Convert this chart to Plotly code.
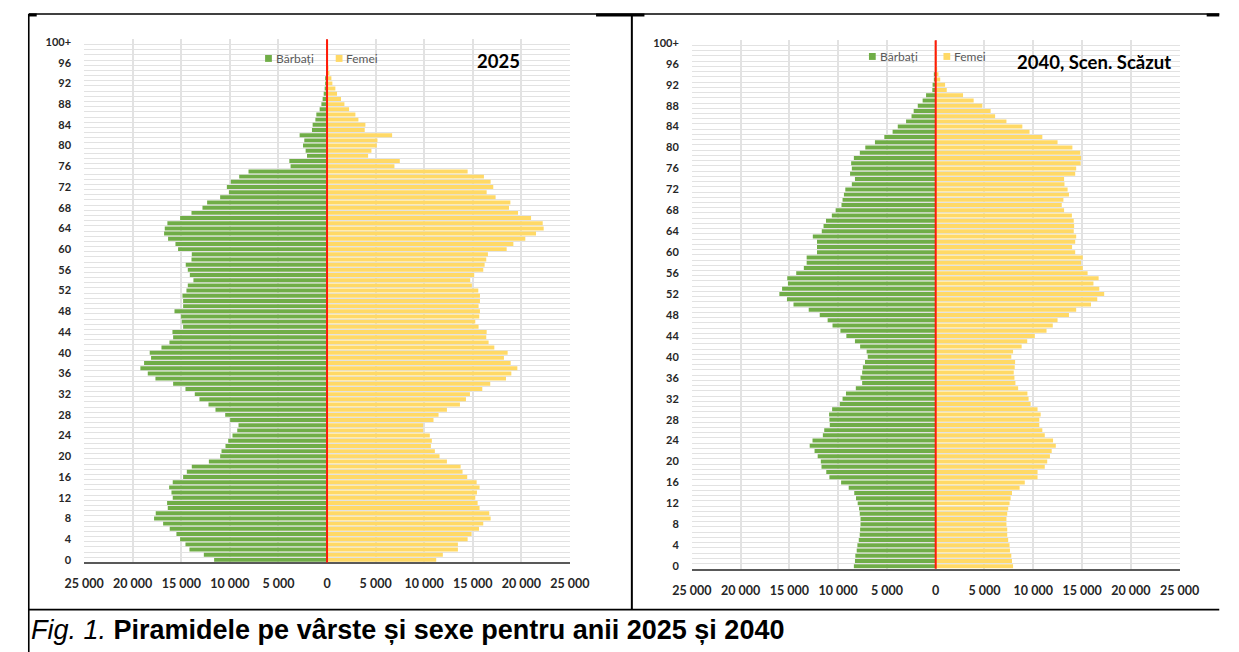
import plotly.graph_objects as go

# ---------------- data ----------------
ages = list(range(101))
age_tick_vals = list(range(0, 101, 4))
age_tick_text = [str(a) for a in range(0, 100, 4)] + ["100+"]

x_tick_vals = [-25000, -20000, -15000, -10000, -5000, 0, 5000, 10000, 15000, 20000, 25000]
x_tick_text = ["25 000", "20 000", "15 000", "10 000", "5 000", "0",
               "5 000", "10 000", "15 000", "20 000", "25 000"]

# 2025 - men (Bărbați), ages 0..100+
men_2025 = [11620, 12680, 14160, 14570, 15120, 15500, 16190, 16870, 17800, 17630,
            16390, 16460, 15880, 16010, 16250, 15880, 14810, 14430, 13920, 12160,
            11000, 10860, 10450, 10170, 9730, 9240, 9110, 9970, 10480, 11480,
            12200, 13130, 13610, 14570, 15840, 17660, 18450, 19210, 18830, 18110,
            18250, 17040, 16220, 15840, 15910, 14810, 14950, 15020, 15700, 14810,
            14810, 14880, 14470, 14330, 13750, 14120, 14330, 14540, 13950, 13920,
            15330, 15600, 16360, 16770, 16700, 16430, 15120, 13950, 12820, 12340,
            11000, 10100, 10310, 9900, 9040, 8080, 3750, 3880, 2060, 2200,
            2470, 2340, 2820, 1550, 1480, 1200, 1100, 760, 580, 450,
            340, 240, 150, 100, 60, 40, 25, 15, 10, 5, 5]
# 2025 - women (Femei)
women_2025 = [11240, 11920, 13470, 13470, 14470, 14880, 15640, 16080, 16840, 16700,
              15700, 15500, 15260, 15430, 15700, 15400, 14430, 13950, 13750, 12340,
              11580, 11100, 10690, 10790, 10580, 9900, 9900, 10960, 11480, 12340,
              13680, 14300, 14710, 15980, 16800, 18420, 18970, 19590, 18900, 18210,
              18590, 17220, 16630, 16390, 16430, 15600, 15260, 15670, 15740, 15600,
              15740, 15740, 15570, 14910, 14740, 15150, 16080, 16220, 16390, 16560,
              18490, 19180, 20410, 21510, 22300, 22200, 21000, 19660, 18730, 18870,
              17350, 16430, 17110, 16840, 16150, 14470, 6940, 7490, 4230, 4570,
              5120, 5190, 6700, 3880, 3950, 3230, 2920, 2270, 1790, 1440,
              1030, 860, 550, 450, 250, 150, 90, 50, 30, 20, 20]
# 2040 (low scenario) - men
men_2040 = [8390, 8280, 8240, 8100, 8030, 7890, 7790, 7750, 7710, 7710,
            7790, 7860, 8000, 8170, 8350, 8920, 9700, 10900, 11220, 11710,
            11780, 12100, 12420, 12920, 12630, 11570, 11430, 10860, 10900, 10930,
            10620, 9840, 9550, 9200, 8190, 7540, 7710, 7540, 7470, 7250,
            6970, 7080, 7750, 8280, 9160, 9770, 10580, 11080, 11890, 13020,
            14580, 15250, 16030, 15750, 15150, 15220, 14300, 13520, 13230, 13230,
            12170, 12170, 12170, 12600, 11680, 11500, 11250, 10650, 10260, 9660,
            9550, 9410, 9270, 8600, 8280, 8780, 8600, 8670, 8390, 7780,
            7220, 6230, 5270, 4420, 3890, 3040, 2480, 2260, 1840, 1340,
            990, 350, 320, 140, 140, 60, 30, 20, 10, 5, 5]
# 2040 (low scenario) - women
women_2040 = [7930, 7820, 7750, 7610, 7570, 7430, 7330, 7330, 7250, 7250,
              7330, 7430, 7570, 7680, 7820, 8600, 9130, 10440, 10440, 11180,
              11430, 11710, 11890, 12310, 12030, 11180, 10930, 10620, 10620, 10760,
              10440, 9730, 9520, 9400, 8450, 8170, 8070, 8000, 8100, 8140,
              7750, 7930, 8810, 9380, 10160, 11360, 12000, 12490, 13660, 14400,
              15920, 16560, 17270, 16770, 16170, 16700, 15570, 15070, 14900, 15070,
              14300, 13980, 14300, 14400, 14150, 14190, 14150, 13960, 13160, 12920,
              13090, 13660, 13520, 13200, 13160, 14300, 14400, 14860, 14900, 14830,
              14010, 12490, 10930, 9620, 8880, 7250, 6090, 5630, 4780, 3890,
              2800, 1130, 960, 460, 280, 150, 60, 30, 20, 10, 10]

series_names = ["Bărbați", "Femei"]
panel_titles = ["2025", "2040, Scen. Scăzut"]
caption_italic = "Fig. 1."
caption_bold = "Piramidele pe vârste și sexe pentru anii 2025 și 2040"

# ---------------- styling ----------------
W, H = 1239, 652
OFF = 8  # the page places the figure 8 px from the window corner
GREEN = "#70AD47"
YELLOW = "#FFD966"
GRID = "#E2E2E2"
FONT = "Lato"


def px(x):
    return (x - OFF) / W


def py(y):
    return 1 - (y - OFF) / H


fig = go.Figure()
panels = [
    (men_2025, women_2025, "x", "y"),
    (men_2040, women_2040, "x2", "y2"),
]
for men, women, xa, ya in panels:
    fig.add_trace(go.Bar(y=ages, x=[-v for v in men], orientation="h",
                         marker=dict(color=GREEN, line=dict(width=0)),
                         name=series_names[0], xaxis=xa, yaxis=ya, showlegend=False))
    fig.add_trace(go.Bar(y=ages, x=women, orientation="h",
                         marker=dict(color=YELLOW, line=dict(width=0)),
                         name=series_names[1], xaxis=xa, yaxis=ya, showlegend=False))


def xaxis_cfg(domain, anchor):
    return dict(domain=domain, anchor=anchor, range=[-25000, 25000],
                tickmode="array", tickvals=x_tick_vals, ticktext=x_tick_text,
                showgrid=True, gridcolor=GRID, gridwidth=1.5, zeroline=False,
                showline=True, linecolor="#595959", linewidth=2,
                ticks="", ticklabelstandoff=9,
                tickfont=dict(family=FONT, size=12.5, color="#262626", weight="bold"),
                fixedrange=True)


def yaxis_cfg(domain, anchor):
    return dict(domain=domain, anchor=anchor, range=[-0.5, 100.5],
                tickmode="array", tickvals=age_tick_vals, ticktext=age_tick_text,
                showgrid=False, zeroline=False, showline=False, ticks="",
                ticklabelstandoff=12,
                minor=dict(tickmode="array", tickvals=[i - 0.5 for i in range(102)],
                           showgrid=True, gridcolor=GRID, gridwidth=1.2, ticks=""),
                tickfont=dict(family=FONT, size=11, color="#262626", weight="bold"),
                fixedrange=True)


shapes = []
# red vertical lines at 0
for xr, yr in (("x", "y domain"), ("x2", "y2 domain")):
    shapes.append(dict(type="line", xref=xr, yref=yr, x0=0, x1=0, y0=0, y1=1,
                       line=dict(color="#FF1A0A", width=2), layer="above"))


def pline(x0, y0, x1, y1, w=1.5):
    shapes.append(dict(type="line", xref="paper", yref="paper",
                       x0=px(x0), y0=py(y0), x1=px(x1), y1=py(y1),
                       line=dict(color="black", width=w), layer="above"))


# table borders
pline(8.8, 9, 1239, 9, 1.3)
pline(8.8, 10, 17, 10, 3)
pline(595, 10, 645, 10, 3)
pline(1226, 10, 1239, 10, 3)
pline(8.8, 9, 8.8, 660, 1.6)
pline(632, 9, 632, 612, 2)
pline(8, 612, 1239, 612, 1.6)

annotations = []
# legends (one per panel)
legend_pos = [((253, 54), (326, 54)), ((877, 52), (954, 52))]
for (gx, gy), (yx, yy) in legend_pos:
    for (lx, ly), col, name in (((gx, gy), GREEN, series_names[0]),
                                ((yx, yy), YELLOW, series_names[1])):
        shapes.append(dict(type="rect", xref="paper", yref="paper",
                           x0=px(lx), x1=px(lx + 7), y0=py(ly + 3.5), y1=py(ly - 3.5),
                           fillcolor=col, line=dict(width=0)))
        annotations.append(dict(xref="paper", yref="paper", x=px(lx + 9), y=py(ly),
                                xanchor="left", yanchor="middle", showarrow=False,
                                text=name, font=dict(family=FONT, size=12, color="#595959")))

# panel titles
annotations.append(dict(xref="paper", yref="paper", x=px(494), y=py(57),
                        xanchor="center", yanchor="middle", showarrow=False,
                        text="<b>%s</b>" % panel_titles[0],
                        font=dict(family=FONT, size=18.5, color="black")))
annotations.append(dict(xref="paper", yref="paper", x=px(1110), y=py(58),
                        xanchor="center", yanchor="middle", showarrow=False,
                        text="<b>%s</b>" % panel_titles[1],
                        font=dict(family=FONT, size=18.5, color="black")))
# caption
annotations.append(dict(xref="paper", yref="paper", x=px(9), y=py(633),
                        xanchor="left", yanchor="middle", showarrow=False,
                        text="<i>%s</i> <b>%s</b>" % (caption_italic, caption_bold),
                        font=dict(family="Liberation Sans, Arial", size=27, color="black")))

fig.update_layout(
    width=W, height=H,
    margin=dict(l=0, r=0, t=0, b=0),
    paper_bgcolor="white", plot_bgcolor="white",
    barmode="overlay", bargap=0.24,
    xaxis=xaxis_cfg([px(66), px(568)], "y"),
    yaxis=yaxis_cfg([py(564.3), py(34.7)], "x"),
    xaxis2=xaxis_cfg([px(694), px(1198)], "y2"),
    yaxis2=yaxis_cfg([py(570.7), py(35.6)], "x2"),
    shapes=shapes,
    annotations=annotations,
    showlegend=False,
)

fig.write_html("out.html", config={"displayModeBar": False})
